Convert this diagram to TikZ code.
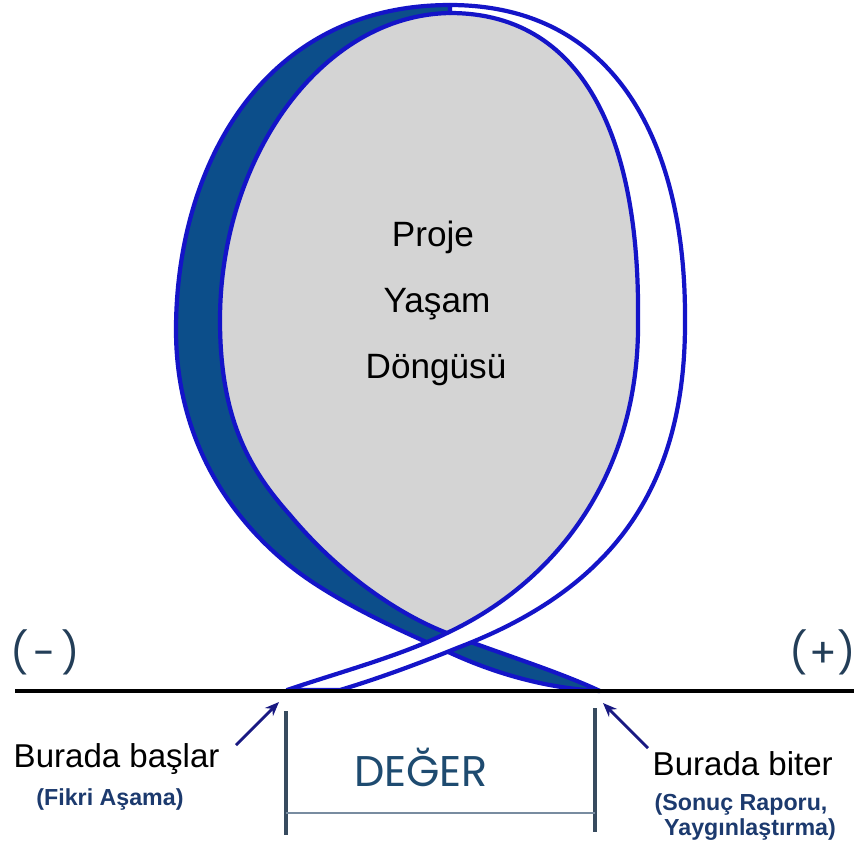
\documentclass[tikz,border=0pt]{standalone}
\usepackage{fontspec}
\setmainfont{Liberation Sans}
\newfontfamily\popfont{Poppins}
\usetikzlibrary{arrows.meta}
\definecolor{ribbonblue}{RGB}{20,20,200}
\definecolor{ribbonnavy}{RGB}{12,78,138}
\definecolor{loopgray}{RGB}{212,212,212}
\definecolor{signslate}{RGB}{35,62,88}
\definecolor{valueblue}{RGB}{30,75,112}
\definecolor{notenavy}{RGB}{28,58,110}
\definecolor{bracketslate}{RGB}{55,75,95}
\definecolor{bracketlight}{RGB}{120,140,160}
\definecolor{arrownavy}{RGB}{25,25,130}
\begin{document}
\begin{tikzpicture}[x=0.01cm,y=-0.01cm,
  darkband/.style={fill=ribbonnavy,draw=ribbonblue,line width=1.2pt,line join=round},
  whiteband/.style={fill=white,draw=ribbonblue,line width=1.2pt,line join=round},
  groundline/.style={draw=black,line width=1.4pt},
  bracketbar/.style={draw=bracketslate,line width=0.9pt},
  bracketspan/.style={draw=bracketlight,line width=0.6pt},
  pointer/.style={draw=arrownavy,line width=0.8pt,-{Stealth[length=4pt,width=3.2pt]}},
  looptext/.style={font=\fontsize{10pt}{12pt}\selectfont,text=black,inner sep=0pt,anchor=base},
  labeltext/.style={font=\fontsize{9.4pt}{11pt}\selectfont,text=black,inner sep=0pt,anchor=base},
  notetext/.style={font=\bfseries\fontsize{6.6pt}{8pt}\selectfont,text=notenavy,inner sep=0pt,anchor=base},
  signtext/.style={font=\popfont\fontsize{11.5pt}{14pt}\selectfont,text=signslate,inner sep=0pt},
  valuetext/.style={font=\popfont\fontsize{12.2pt}{14pt}\selectfont,text=valueblue,inner sep=0pt,anchor=base}
]
\useasboundingbox (0,0) rectangle (854,847);
\fill[white] (0,0) rectangle (854,847);

% gray interior of the loop
\fill[loopgray] (450,13) .. controls (320,15) and (220,160) .. (220,320)
  .. controls (220,420) and (250,470) .. (290,515)
  .. controls (340,575) and (400,615) .. (447,633)
  .. controls (560,580) and (640,470) .. (638,320)
  .. controls (640,150) and (590,13) .. (450,13) -- cycle;

% dark band (left side of the ribbon)
\path[darkband] (600,691) .. controls (540,688) and (485,670) .. (440,648)
  .. controls (380,622) and (320,592) .. (283,560)
  .. controls (230,515) and (176,440) .. (176,330)
  .. controls (176,170) and (260,5) .. (450,5)
  -- (452,9) -- (450,13)
  .. controls (320,15) and (220,160) .. (220,320)
  .. controls (220,420) and (250,470) .. (290,515)
  .. controls (340,575) and (400,615) .. (447,633)
  .. controls (495,652) and (555,670) .. (600,691) -- cycle;

% white band (right side of the ribbon), crossing over the dark band
\path[whiteband] (450,5) .. controls (620,5) and (686,150) .. (685,320)
  .. controls (686,490) and (610,590) .. (457,648)
  .. controls (420,663) and (380,678) .. (340,690)
  -- (287,690)
  .. controls (340,672) and (400,656) .. (447,633)
  .. controls (560,580) and (640,470) .. (638,320)
  .. controls (640,150) and (590,13) .. (450,13) -- cycle;

% ground line
\coordinate (gl) at (15,691);
\coordinate (gr) at (854,691);
\draw[groundline] (gl) -- (gr);

% texts in the loop
\node[looptext] (proje) at (433,246) {Proje};
\node[looptext] (yasam) at (437,312) {Yaşam};
\node[looptext] (dongu) at (436,378) {Döngüsü};

% signs
\node[signtext] (minus) at (45,652) {(\kern1.5pt-\kern1.5pt)};
\node[signtext] (plus) at (823,652) {(\kern0.3pt+\kern0.3pt)};

% value bracket
\coordinate (blt) at (286,711);
\coordinate (blb) at (286,835);
\coordinate (brt) at (595,708);
\coordinate (brb) at (595,832);
\coordinate (bsl) at (286,813);
\coordinate (bsr) at (595,813);
\draw[bracketbar] (blt) -- (blb);
\draw[bracketbar] (brt) -- (brb);
\draw[bracketspan] (bsl) -- (bsr);
\node[valuetext] (deger) at (421,786) {DEĞER};

% start and end labels
\node[labeltext,anchor=base west] (basla) at (13,767) {Burada başlar};
\node[notetext] (fikri) at (110,805) {(Fikri Aşama)};
\node[labeltext,anchor=base west] (biter) at (652,775) {Burada biter};
\node[notetext] (sonuc) at (741,810) {(Sonuç Raporu,};
\node[notetext] (yaygin) at (750,835) {Yaygınlaştırma)};

% pointers
\coordinate (lptail) at (236,745);
\coordinate (lphead) at (279,702);
\coordinate (rptail) at (648,748);
\coordinate (rphead) at (603,703);
\draw[pointer] (lptail) -- (lphead);
\draw[pointer] (rptail) -- (rphead);
\end{tikzpicture}
\end{document}
